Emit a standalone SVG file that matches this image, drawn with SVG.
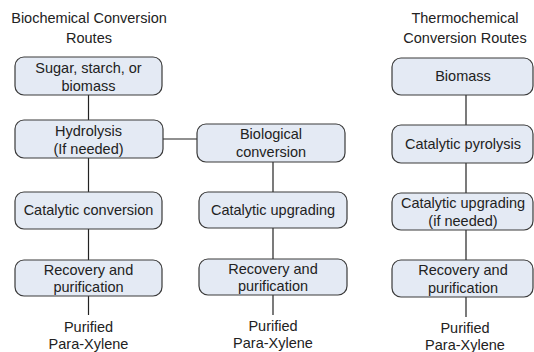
<svg xmlns="http://www.w3.org/2000/svg" width="534" height="352" viewBox="0 0 534 352">
<style>
.box{fill:#e4eaf4;stroke:#3a3a3a;stroke-width:1.2}
.t{font-family:"Liberation Sans",Arial,sans-serif;font-size:14.5px;fill:#222;text-anchor:middle}
.c{stroke:#222;stroke-width:1.2;fill:none}
</style>
<rect width="534" height="352" fill="#fff"/>
<g id="titles">
<text class="t" x="89" y="23">Biochemical Conversion</text>
<text class="t" x="89" y="43">Routes</text>
<text class="t" x="465" y="23">Thermochemical</text>
<text class="t" x="465" y="43">Conversion Routes</text>
</g>
<g id="connectors">
<line class="c" x1="88.5" y1="95" x2="88.5" y2="120"/>
<line class="c" x1="88.5" y1="158" x2="88.5" y2="192"/>
<line class="c" x1="88.5" y1="229" x2="88.5" y2="260"/>
<line class="c" x1="88.5" y1="296" x2="88.5" y2="315"/>
<line class="c" x1="163" y1="139" x2="197" y2="139"/>
<line class="c" x1="273" y1="162" x2="273" y2="192"/>
<line class="c" x1="273" y1="228" x2="273" y2="259"/>
<line class="c" x1="273" y1="295" x2="273" y2="315"/>
<line class="c" x1="466" y1="95" x2="466" y2="125"/>
<line class="c" x1="466" y1="163" x2="466" y2="193"/>
<line class="c" x1="466" y1="230" x2="466" y2="260"/>
<line class="c" x1="466" y1="297" x2="466" y2="317"/>
</g>
<g id="n1"><rect class="box" x="15" y="57" width="147" height="38" rx="9"/>
<text class="t" x="88.5" y="73">Sugar, starch, or</text><text class="t" x="88.5" y="91">biomass</text></g>
<g id="n2"><rect class="box" x="15" y="120" width="148" height="38" rx="9"/>
<text class="t" x="88.5" y="136">Hydrolysis</text><text class="t" x="88.5" y="154">(If needed)</text></g>
<g id="n3"><rect class="box" x="15" y="192" width="147" height="37" rx="9"/>
<text class="t" x="88.5" y="215">Catalytic conversion</text></g>
<g id="n4"><rect class="box" x="15" y="260" width="147" height="36" rx="9"/>
<text class="t" x="88.5" y="275">Recovery and</text><text class="t" x="88.5" y="292">purification</text></g>
<g id="n5"><text class="t" x="88.5" y="332">Purified</text><text class="t" x="88.5" y="349">Para-Xylene</text></g>
<g id="m1"><rect class="box" x="197" y="124" width="148" height="38" rx="9"/>
<text class="t" x="271" y="139">Biological</text><text class="t" x="271" y="157">conversion</text></g>
<g id="m2"><rect class="box" x="199" y="192" width="148" height="36" rx="9"/>
<text class="t" x="273" y="215">Catalytic upgrading</text></g>
<g id="m3"><rect class="box" x="199" y="259" width="148" height="36" rx="9"/>
<text class="t" x="273" y="274">Recovery and</text><text class="t" x="273" y="291">purification</text></g>
<g id="m4"><text class="t" x="273" y="331">Purified</text><text class="t" x="273" y="348">Para-Xylene</text></g>
<g id="r1"><rect class="box" x="392" y="58" width="141" height="37" rx="9"/>
<text class="t" x="463" y="81">Biomass</text></g>
<g id="r2"><rect class="box" x="392" y="125" width="141" height="38" rx="9"/>
<text class="t" x="463" y="149">Catalytic pyrolysis</text></g>
<g id="r3"><rect class="box" x="392" y="193" width="141" height="37" rx="9"/>
<text class="t" x="463" y="208">Catalytic upgrading</text><text class="t" x="463" y="226">(if needed)</text></g>
<g id="r4"><rect class="box" x="392" y="260" width="141" height="37" rx="9"/>
<text class="t" x="463" y="275">Recovery and</text><text class="t" x="463" y="293">purification</text></g>
<g id="r5"><text class="t" x="465" y="333">Purified</text><text class="t" x="465" y="350">Para-Xylene</text></g>
</svg>
